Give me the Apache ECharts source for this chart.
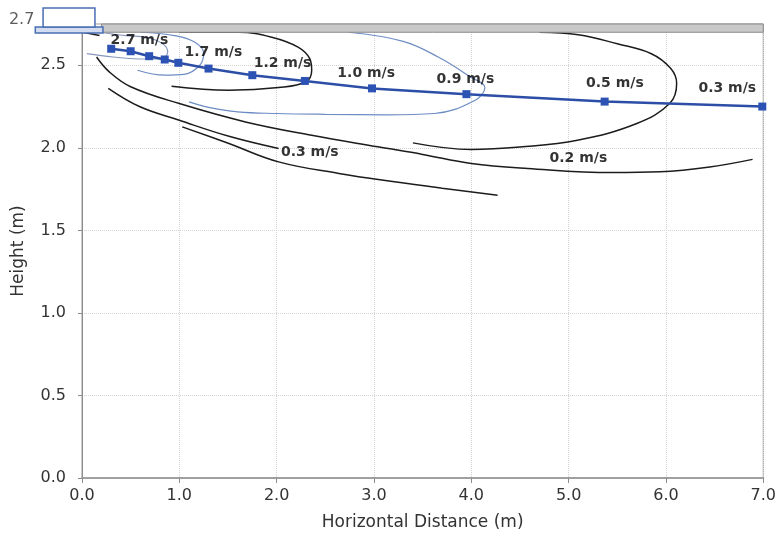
<!DOCTYPE html>
<html>
<head>
<meta charset="utf-8">
<script src="https://cdn.jsdelivr.net/npm/echarts@6/dist/echarts.min.js"></script>
<style>html,body{margin:0;padding:0;background:#fff}#c{width:779px;height:540px}</style>
</head>
<body>
<div id="c"></div>
<script>
// ---- Data (metres) ----
// jet centreline points (square markers)
const jetX = [0.30, 0.50, 0.69, 0.85, 0.99, 1.30, 1.75, 2.29, 2.98, 3.95, 5.37, 6.99];
const jetY = [2.600, 2.585, 2.555, 2.535, 2.515, 2.480, 2.440, 2.405, 2.360, 2.325, 2.280, 2.250];

// velocity contours [x, y]
const contour27 = [[0.18,2.70],[0.45,2.68],[0.67,2.668],[0.83,2.63],[0.88,2.58],[0.82,2.54],[0.66,2.538],[0.32,2.55],[0.05,2.57]];
const contour17 = [[0.60,2.70],[0.95,2.68],[1.16,2.64],[1.25,2.575],[1.21,2.50],[1.05,2.445],[0.85,2.44],[0.57,2.47]];
const contour12 = [[1.00,2.70],[1.61,2.70],[1.95,2.67],[2.22,2.61],[2.34,2.54],[2.36,2.47],[2.30,2.40],[2.02,2.365],[1.51,2.349],[0.92,2.373]];
const contour09 = [[2.74,2.70],[3.30,2.645],[3.66,2.55],[3.99,2.43],[4.14,2.365],[4.03,2.285],[3.62,2.208],[3.15,2.20],[2.50,2.203],[2.00,2.208],[1.60,2.218],[1.30,2.245],[1.10,2.278]];
const contour05 = [[4.70,2.70],[5.10,2.685],[5.50,2.63],[5.85,2.57],[6.05,2.48],[6.11,2.39],[6.04,2.27],[5.70,2.147],[5.09,2.046],[4.50,2.005],[4.00,1.99],[3.40,2.03]];
const contour02 = [[0.15,2.55],[0.28,2.46],[0.50,2.37],[1.00,2.268],[1.68,2.157],[2.36,2.076],[3.04,2.006],[3.50,1.96],[4.00,1.905],[4.58,1.875],[5.45,1.85],[5.94,1.855],[6.45,1.884],[6.89,1.93]];
const contour03a = [[0.27,2.36],[0.59,2.25],[1.00,2.167],[1.51,2.07],[2.02,1.996]];
const contour03b = [[1.03,2.127],[1.51,2.026],[2.02,1.915],[2.64,1.845],[3.21,1.794],[3.70,1.755],[4.27,1.713]];
const topStub = [[0.01,2.70],[0.18,2.68]];

// velocity labels
const speedText = ['2.7 m/s','1.7 m/s','1.2 m/s','1.0 m/s','0.9 m/s','0.5 m/s','0.3 m/s','0.3 m/s','0.2 m/s'];
const speedX = [0.59, 1.35, 2.06, 2.92, 3.94, 5.475, 6.63, 2.34, 5.10];
const speedY = [2.650, 2.578, 2.513, 2.452, 2.414, 2.390, 2.360, 1.973, 1.936];

// ceiling and diffuser geometry [x0, y0, x1, y1]
const ceiling = [0.20, 2.70, 7.00, 2.75];
const diffuserPlate = [-0.48, 2.695, 0.215, 2.732];
const diffuserBox = [-0.40, 2.732, 0.133, 2.847];
const ceilingLabelText = '2.7';
const ceilingLabelPos = [-0.62, 2.775];

// ---- Chart ----
const FONT = 'DejaVu Sans';
const blueC = '#6d8cc3';
const blackC = '#1c1c1c';
const rectStyles = [
  {fill:'#c9c9c9', stroke:'#8a8a8a', lineWidth:1},
  {fill:'#d3ddef', stroke:'#4a6db3', lineWidth:1.5},
  {fill:'#ffffff', stroke:'#4a6db3', lineWidth:1.5}
];

function contour(data, color, width) {
  return {type:'line', data:data, showSymbol:false, smooth:0.4, silent:true,
    lineStyle:{color:color, width:width}, z:2};
}

const chart = echarts.init(document.getElementById('c'), null, {renderer:'canvas'});
chart.setOption({
  animation:false,
  backgroundColor:'#ffffff',
  grid:{left:82, right:12, top:24, bottom:62, show:true, borderColor:'#999', borderWidth:1},
  xAxis:{type:'value', min:0, max:7, interval:1,
    axisLine:{show:true, lineStyle:{color:'#a0a0a0', width:2}},
    axisTick:{show:true, length:5, lineStyle:{color:'#8c8c8c'}},
    axisLabel:{formatter:v=>v.toFixed(1), fontSize:16, color:'#333', fontFamily:FONT, margin:10},
    splitLine:{show:true, lineStyle:{type:'dotted', color:'#d2d2d2'}},
    name:'Horizontal Distance (m)', nameLocation:'middle', nameGap:36,
    nameTextStyle:{fontSize:17, color:'#333', fontFamily:FONT}},
  yAxis:{type:'value', min:0, max:2.75, interval:0.5,
    axisLine:{show:true, lineStyle:{color:'#8c8c8c'}},
    axisTick:{show:true, length:4, lineStyle:{color:'#8c8c8c'}},
    axisLabel:{formatter:v=>(v<=2.5+1e-9 && Math.abs(v*2-Math.round(v*2))<1e-9)?v.toFixed(1):'',
      fontSize:16, color:'#333', fontFamily:FONT, margin:16, showMaxLabel:false},
    splitLine:{show:true, lineStyle:{type:'dotted', color:'#dcd2cc'}},
    name:'Height (m)', nameLocation:'middle', nameGap:55,
    nameTextStyle:{fontSize:17, color:'#333', fontFamily:FONT}},
  series:[
    contour(contour27, '#8797bd', 1.2),
    contour(contour17, blueC, 1.2),
    contour(contour09, blueC, 1.2),
    contour(contour12, blackC, 1.5),
    contour(contour05, blackC, 1.5),
    contour(contour02, blackC, 1.5),
    contour(contour03a, blackC, 1.5),
    contour(contour03b, blackC, 1.5),
    contour(topStub, blackC, 1.5),
    {type:'custom', z:5, silent:true,
      data:[ceiling, diffuserPlate, diffuserBox],
      encode:{x:[0,2], y:[1,3]},
      renderItem:(params, api)=>{
        const a = api.coord([api.value(0), api.value(3)]);
        const b = api.coord([api.value(2), api.value(1)]);
        return {type:'rect', shape:{x:a[0], y:a[1], width:b[0]-a[0], height:b[1]-a[1]},
          style:Object.assign({}, rectStyles[params.dataIndex])};
      }},
    {type:'line', z:6, data:jetX.map((x,i)=>[x, jetY[i]]), smooth:false,
      symbol:'rect', symbolSize:8, showSymbol:true,
      lineStyle:{color:'#2d4ea6', width:2.5},
      itemStyle:{color:'#2c53b3'}},
    {type:'scatter', z:7, silent:true, symbolSize:1,
      itemStyle:{color:'rgba(0,0,0,0)'},
      data:speedText.map((t,i)=>({name:t, value:[speedX[i], speedY[i]]})),
      label:{show:true, position:'inside', formatter:p=>p.name,
        fontSize:14, fontWeight:'bold', color:'#000', textBorderWidth:0, fontFamily:FONT}},
    {type:'scatter', z:7, silent:true, symbolSize:1, clip:false,
      itemStyle:{color:'rgba(0,0,0,0)'},
      data:[{name:ceilingLabelText, value:ceilingLabelPos}],
      label:{show:true, position:'inside', formatter:p=>p.name,
        fontSize:16, color:'#333', textBorderWidth:0, fontFamily:FONT}}
  ]
});
</script>
</body>
</html>
